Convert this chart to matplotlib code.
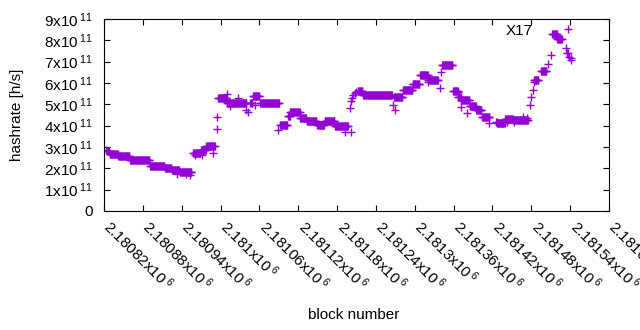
import numpy as np
import matplotlib
matplotlib.use('Agg')
import matplotlib.pyplot as plt
import matplotlib.transforms as mtransforms
from matplotlib.ticker import FixedLocator, FuncFormatter

plt.rcParams['font.family'] = ['Liberation Sans', 'DejaVu Sans']
plt.rcParams['mathtext.fontset'] = 'custom'
plt.rcParams['mathtext.rm'] = 'Liberation Sans'
plt.rcParams['mathtext.it'] = 'Liberation Sans:italic'
plt.rcParams['font.size'] = 11

# Plateaus of constant estimated hashrate (block ranges, value in 1e11 h/s)
plateau_start = [2180825, 2180829, 2180842, 2180860, 2180891, 2180914, 2180925, 2180937,
                 2180958, 2180970, 2180978, 2180996, 2181010, 2181046, 2181050, 2181061,
                 2181092, 2181104, 2181108, 2181123, 2181133, 2181149, 2181161, 2181177,
                 2181212, 2181220, 2181268, 2181282, 2181297, 2181308, 2181321, 2181342,
                 2181359, 2181367, 2181372, 2181385, 2181395, 2181405, 2181427, 2181440,
                 2181452, 2181484, 2181495, 2181512, 2181520]
plateau_end = [2180829, 2180842, 2180860, 2180891, 2180914, 2180925, 2180937, 2180956,
               2180970, 2180978, 2180992, 2181010, 2181041, 2181050, 2181061, 2181091,
               2181104, 2181108, 2181123, 2181133, 2181149, 2181161, 2181177, 2181198,
               2181220, 2181266, 2181282, 2181297, 2181308, 2181321, 2181337, 2181359,
               2181367, 2181372, 2181385, 2181395, 2181404, 2181416, 2181440, 2181452,
               2181476, 2181492, 2181504, 2181520, 2181528]
plateau_rate = [2.80, 2.67, 2.58, 2.40, 2.11, 2.01, 1.92, 1.82,
                2.72, 2.85, 3.05, 5.30, 5.06, 5.05, 5.40, 5.06,
                4.02, 4.45, 4.64, 4.36, 4.22, 4.05, 4.20, 4.00,
                5.62, 5.44, 5.35, 5.67, 5.95, 6.38, 6.14, 6.84,
                5.63, 5.35, 5.20, 4.92, 4.75, 4.40, 4.12, 4.30,
                4.28, 6.12, 6.58, 8.30, 8.05]

# Individual blocks off the plateaus
single_block = [2180823, 2180932, 2180946, 2180953, 2180960, 2180971, 2180989, 2180995,
                2180995, 2181010, 2181015, 2181027, 2181040, 2181042, 2181053, 2181089,
                2181100, 2181105, 2181193, 2181200, 2181201, 2181202, 2181203, 2181205,
                2181207, 2181209, 2181266, 2181269, 2181320, 2181339, 2181340, 2181366,
                2181372, 2181380, 2181404, 2181415, 2181425, 2181427, 2181442, 2181453,
                2181467, 2181473, 2181478, 2181480, 2181482, 2181484, 2181506, 2181510,
                2181534, 2181535, 2181536, 2181538, 2181541, 2181542]
single_rate = [2.88, 1.74, 1.72, 1.68, 2.62, 2.62, 2.72, 3.83,
               4.42, 5.47, 4.92, 5.30, 4.73, 4.65, 4.97, 3.80,
               4.03, 4.45, 3.72, 4.85, 3.72, 5.15, 5.30, 5.45,
               5.55, 5.60, 4.97, 4.73, 6.05, 5.77, 6.52, 5.58,
               4.88, 4.60, 4.40, 4.12, 4.17, 4.17, 4.17, 4.17,
               4.40, 4.36, 4.97, 5.36, 5.67, 6.05, 6.90, 7.30,
               7.63, 7.40, 7.39, 7.20, 7.08, 7.15]

x_ticks = [2180820, 2180880, 2180940, 2181000, 2181060, 2181120, 2181180,
           2181240, 2181300, 2181360, 2181420, 2181480, 2181540, 2181600]
y_ticks = [0, 1e11, 2e11, 3e11, 4e11, 5e11, 6e11, 7e11, 8e11, 9e11]

blocks = []
rates = []
for s, e, r in zip(plateau_start, plateau_end, plateau_rate):
    for b in range(s, e):
        blocks.append(b)
        rates.append(r * 1e11)
blocks += single_block
rates += [r * 1e11 for r in single_rate]

fig = plt.figure(figsize=(6.4, 3.3), dpi=100)
ax = fig.add_axes([104/640, 1-211/330, 505/640, 192/330])

ax.plot(blocks, rates, linestyle='none', marker='+', color='#9400D3',
        markersize=5.3, markeredgewidth=1.0, label='X17')

ax.set_xlim(2180820, 2181600)
ax.set_ylim(0, 9e11)
ax.xaxis.set_major_locator(FixedLocator(x_ticks))
ax.yaxis.set_major_locator(FixedLocator(y_ticks))

def yfmt(v, pos):
    n = int(round(v / 1e11))
    if n == 0:
        return '0'
    return f'{n}x10$^{{\\;11}}$'

def xfmt(v, pos):
    return f'{v/1e6:g}x10$^{{\\;6}}$'

ax.yaxis.set_major_formatter(FuncFormatter(yfmt))
ax.xaxis.set_major_formatter(FuncFormatter(xfmt))

ax.tick_params(axis='both', which='major', direction='in', length=4.5, width=0.8,
               top=True, right=True, labelsize=11)
ax.tick_params(axis='y', pad=8)
ax.tick_params(axis='x', pad=9)
offset = mtransforms.ScaledTranslation(3/100, 0, fig.dpi_scale_trans)
for lab in ax.get_xticklabels():
    lab.set_rotation(-45)
    lab.set_ha('left')
    lab.set_va('center')
    lab.set_rotation_mode('anchor')
    lab.set_transform(lab.get_transform() + offset)

for sp in ax.spines.values():
    sp.set_linewidth(0.8)

ax.set_xlabel('block number', fontsize=11)
ax.xaxis.label.set_va('center')
ax.xaxis.set_label_coords(0.495, (211-315)/192)
ax.set_ylabel('hashrate [h/s]', fontsize=11)
ax.yaxis.label.set_va('center')
ax.yaxis.set_label_coords((17-104)/505, 0.5)

ax.legend(loc='upper right', bbox_to_anchor=(0.979, 0.975), frameon=False,
          markerfirst=False, handlelength=4, handletextpad=0.3,
          borderpad=0, borderaxespad=0, fontsize=11)

fig.savefig('out.png', dpi=100)
